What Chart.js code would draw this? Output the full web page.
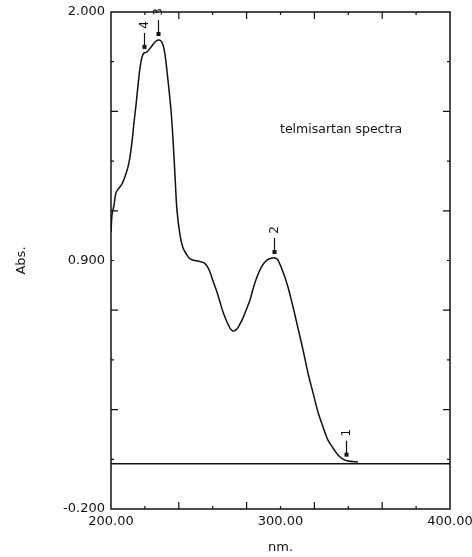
<!DOCTYPE html>
<html>
<head>
<meta charset="utf-8">
<script src="https://cdn.jsdelivr.net/npm/chart.js@4"></script>
<style>
  html, body { margin: 0; padding: 0; background: #fff; }
  #wrap { width: 472px; height: 557px; }
</style>
</head>
<body>
<div id="wrap"><canvas id="chart"></canvas></div>
<script>
// spectrum (nm, Abs.)
var wavelengths = [200.0, 200.6, 201.8, 202.9, 204.7, 206.5, 208.8, 210.6, 212.4, 213.6,
    214.7, 215.9, 217.1, 218.3, 219.5, 221.2, 223.6, 226.0, 227.7, 229.5,
    230.7, 231.9, 233.6, 235.4, 236.6, 237.8, 238.9, 240.7, 242.5, 244.8,
    246.6, 249.6, 252.5, 254.9, 256.6, 258.4, 260.2, 262.5, 264.3, 266.1,
    268.4, 270.2, 272.0, 274.3, 276.1, 277.9, 280.2, 282.0, 283.8, 286.1,
    289.1, 292.0, 295.0, 296.8, 298.5, 301.5, 304.4, 307.4, 310.3, 313.3,
    316.2, 319.2, 322.1, 325.1, 328.0, 331.0, 333.9, 336.9, 339.8, 345.7];
var absorbance = [1.026, 1.101, 1.146, 1.199, 1.221, 1.239, 1.283, 1.332, 1.425, 1.513,
    1.584, 1.673, 1.752, 1.801, 1.819, 1.823, 1.845, 1.867, 1.876, 1.872,
    1.854, 1.810, 1.699, 1.566, 1.433, 1.270, 1.124, 1.013, 0.955, 0.924,
    0.907, 0.900, 0.895, 0.889, 0.876, 0.849, 0.809, 0.761, 0.716, 0.672,
    0.628, 0.601, 0.588, 0.597, 0.619, 0.646, 0.690, 0.725, 0.774, 0.827,
    0.876, 0.902, 0.911, 0.911, 0.902, 0.849, 0.783, 0.694, 0.601, 0.504,
    0.402, 0.314, 0.229, 0.163, 0.105, 0.070, 0.039, 0.021, 0.012, 0.008];

// zero line
var baseNm = [200, 400];
var baseAbs = [0, 0];

// picked peaks
var peakLabels = ['1', '2', '3', '4'];
var peakNm = [338.5, 296.2, 227.7, 219.5];
var peakAbs = [0.014, 0.911, 1.876, 1.819];

// axis ticks
var xTickMarks = [200, 220, 240, 260, 280, 300, 320, 340, 360, 380, 400];
var yTickMarks = [-0.2, 0.02, 0.24, 0.46, 0.68, 0.9, 1.12, 1.34, 1.56, 1.78, 2.0];
var xLabelVals = [200, 300, 400];
var yLabelVals = [-0.2, 0.9, 2.0];

var FONT = 'DejaVu Sans';

// frame + inward ticks
var framePlugin = {
    id: 'frame',
    afterDatasetsDraw: function(chart) {
        var ctx = chart.ctx, a = chart.chartArea;
        var xs = chart.scales.x, ys = chart.scales.y;
        ctx.save();
        ctx.strokeStyle = '#111';
        ctx.lineWidth = 1.5;
        ctx.strokeRect(a.left, a.top, a.right - a.left, a.bottom - a.top);
        ctx.lineWidth = 1.2;
        ctx.beginPath();
        xTickMarks.forEach(function(v, i) {
            if (i == 0 || i == xTickMarks.length - 1) return;
            var len = (i % 2 == 0) ? 7 : 3;
            var px = xs.getPixelForValue(v);
            ctx.moveTo(px, a.bottom); ctx.lineTo(px, a.bottom - len);
            ctx.moveTo(px, a.top); ctx.lineTo(px, a.top + len);
        });
        yTickMarks.forEach(function(v, i) {
            if (i == 0 || i == yTickMarks.length - 1) return;
            var len = (i % 2 == 0) ? 7 : 3;
            var py = ys.getPixelForValue(v);
            ctx.moveTo(a.left, py); ctx.lineTo(a.left + len, py);
            ctx.moveTo(a.right, py); ctx.lineTo(a.right - len, py);
        });
        ctx.stroke();
        ctx.restore();
    }
};

// peak pick arrows with rotated numbers
var peakPlugin = {
    id: 'peaks',
    afterDatasetsDraw: function(chart) {
        var ctx = chart.ctx;
        var xs = chart.scales.x, ys = chart.scales.y;
        ctx.save();
        ctx.strokeStyle = '#111';
        ctx.fillStyle = '#111';
        ctx.lineWidth = 1.2;
        peakNm.forEach(function(nm, i) {
            var px = Math.round(xs.getPixelForValue(nm)) + 0.5;
            var py = ys.getPixelForValue(peakAbs[i]);
            ctx.beginPath();
            ctx.moveTo(px, py - 6);
            ctx.lineTo(px, py - 20);
            ctx.stroke();
            ctx.fillRect(px - 2, py - 8, 4, 4);
            ctx.save();
            ctx.translate(px, py - 28);
            ctx.rotate(-Math.PI / 2);
            ctx.font = '12px "' + FONT + '"';
            ctx.textAlign = 'center';
            ctx.textBaseline = 'middle';
            ctx.fillText(peakLabels[i], 0, 0);
            ctx.restore();
        });
        // note inside the plot
        ctx.font = '12.5px "' + FONT + '"';
        ctx.textAlign = 'left';
        ctx.textBaseline = 'middle';
        ctx.fillText('telmisartan spectra', 280, 130);
        ctx.restore();
    }
};

var curve = wavelengths.map(function(x, i) { return { x: x, y: absorbance[i] }; });
var baseline = baseNm.map(function(x, i) { return { x: x, y: baseAbs[i] }; });

new Chart(document.getElementById('chart'), {
    type: 'scatter',
    data: {
        datasets: [{
            data: curve,
            showLine: true,
            borderColor: '#111',
            borderWidth: 1.5,
            pointRadius: 0,
            tension: 0.3
        }, {
            data: baseline,
            showLine: true,
            borderColor: '#111',
            borderWidth: 1.5,
            pointRadius: 0
        }]
    },
    options: {
        responsive: true,
        maintainAspectRatio: false,
        animation: false,
        layout: { padding: { left: 0, right: 22, top: 12, bottom: 0 } },
        plugins: { legend: { display: false }, tooltip: { enabled: false } },
        scales: {
            x: {
                type: 'linear',
                min: 200,
                max: 400,
                grid: { display: false, drawTicks: false },
                border: { display: false },
                afterBuildTicks: function(scale) {
                    scale.ticks = xLabelVals.map(function(v) { return { value: v }; });
                },
                afterFit: function(scale) {
                    scale.height = 48;
                    scale.paddingLeft = 0;
                    scale.paddingRight = 0;
                },
                ticks: {
                    color: '#111',
                    padding: 5,
                    maxRotation: 0,
                    font: { family: FONT, size: 13 },
                    callback: function(v) { return Number(v).toFixed(2); }
                },
                title: {
                    display: true,
                    text: 'nm.',
                    color: '#111',
                    padding: { top: 0, bottom: 2 },
                    font: { family: FONT, size: 13 }
                }
            },
            y: {
                type: 'linear',
                min: -0.2,
                max: 2.0,
                grid: { display: false, drawTicks: false },
                border: { display: false },
                afterBuildTicks: function(scale) {
                    scale.ticks = yLabelVals.map(function(v) { return { value: v }; });
                },
                afterFit: function(scale) {
                    scale.width = 111;
                    scale.paddingTop = 0;
                    scale.paddingBottom = 0;
                },
                ticks: {
                    color: '#111',
                    padding: 6,
                    font: { family: FONT, size: 13 },
                    callback: function(v) { return Number(v).toFixed(3); }
                },
                title: {
                    display: true,
                    text: 'Abs.',
                    color: '#111',
                    padding: { top: 14, bottom: 0 },
                    font: { family: FONT, size: 13 }
                }
            }
        }
    },
    plugins: [framePlugin, peakPlugin]
});
</script>
</body>
</html>
